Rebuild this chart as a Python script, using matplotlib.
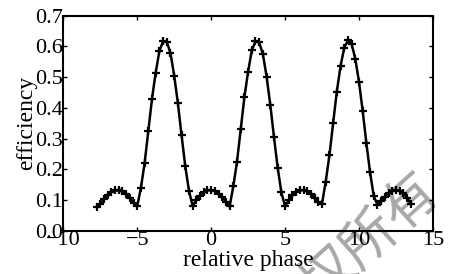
import numpy as np
import matplotlib
matplotlib.use("Agg")
import matplotlib.pyplot as plt

# relative phase samples (every 0.25) and the efficiency
phase = np.arange(-7.75, 13.51, 0.25)
efficiency = [
    0.078, 0.088, 0.102, 0.116, 0.126, 0.131, 0.131, 0.128, 0.119, 0.106,
    0.091, 0.080, 0.140, 0.220, 0.325, 0.430, 0.515, 0.585, 0.617, 0.615,
    0.578, 0.505, 0.415, 0.310, 0.210, 0.130, 0.080, 0.100, 0.113, 0.125,
    0.131, 0.132, 0.129, 0.121, 0.109, 0.094, 0.079, 0.145, 0.225, 0.330,
    0.435, 0.518, 0.587, 0.617, 0.613, 0.575, 0.502, 0.410, 0.305, 0.205,
    0.125, 0.079, 0.100, 0.115, 0.126, 0.131, 0.132, 0.128, 0.119, 0.107,
    0.092, 0.088, 0.160, 0.245, 0.350, 0.453, 0.535, 0.595, 0.620, 0.608,
    0.560, 0.485, 0.390, 0.285, 0.190, 0.112, 0.085, 0.097, 0.111, 0.123,
    0.130, 0.133, 0.130, 0.123, 0.108, 0.088,
]

xticks = [-10, -5, 0, 5, 10, 15]
yticks = [0.0, 0.1, 0.2, 0.3, 0.4, 0.5, 0.6, 0.7]

plt.rcParams['font.family'] = ['Liberation Serif', 'Noto Sans CJK SC']

fig = plt.figure(figsize=(4.5, 2.74), dpi=100)

# scan watermark, sits behind the plot
fig.text(0.822, 0.125, '权所有', fontsize=40, color='#a8a8a8', rotation=42,
         rotation_mode='anchor', ha='center', va='center',
         family=['Noto Sans CJK SC'], zorder=-1)

ax = fig.add_axes([0.1407, 0.158, 0.8213, 0.7847])
ax.set_facecolor('none')

ax.plot(phase, efficiency, color='black', lw=1.8, marker='+', ms=6, mew=1.6)

ax.set_xlim(-10, 15)
ax.set_ylim(0, 0.7)
ax.set_xticks(xticks)
ax.set_yticks(yticks)
ax.set_yticklabels(['%.1f' % v for v in yticks])
ax.tick_params(direction='in', top=True, right=True, length=3, width=1,
               labelsize=16, pad=0)
for s in ax.spines.values():
    s.set_linewidth(1.5)

ax.set_xlabel('relative phase', fontsize=17, labelpad=0)
ax.set_ylabel('efficiency', fontsize=17, labelpad=-1)

fig.savefig('out.png', dpi=100)
